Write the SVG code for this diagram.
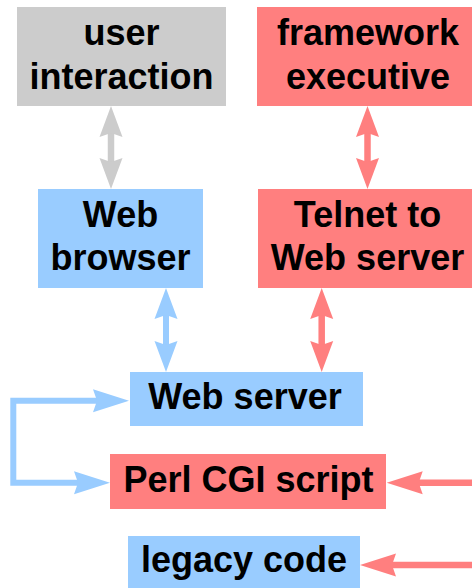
<svg xmlns="http://www.w3.org/2000/svg" width="472" height="588" viewBox="0 0 472 588">
  <style>
    .lbl { font-family: "Liberation Sans", Arial, Helvetica, sans-serif; font-weight: bold; font-size: 36px; fill: #000; text-anchor: middle; }
    .gray { fill: #cccccc; }
    .red { fill: #ff7f7f; }
    .blue { fill: #99ccff; }
    .c-gray { stroke: #cccccc; stroke-width: 6.5; fill: none; }
    .c-red { stroke: #ff7f7f; stroke-width: 6.5; fill: none; }
    .c-blue { stroke: #99ccff; stroke-width: 6; fill: none; }
  </style>
  <defs>
    <!-- barbed heads; tip sits 15px past the line end -->
    <marker id="hv-gray" markerUnits="userSpaceOnUse" markerWidth="60" markerHeight="60" orient="auto-start-reverse" overflow="visible">
      <path d="M15 0 L-16 -11.5 L-12 0 L-16 11.5 Z" fill="#cccccc"/>
    </marker>
    <marker id="hv-red" markerUnits="userSpaceOnUse" markerWidth="60" markerHeight="60" orient="auto-start-reverse" overflow="visible">
      <path d="M15 0 L-16 -11.5 L-12 0 L-16 11.5 Z" fill="#ff7f7f"/>
    </marker>
    <marker id="hv-blue" markerUnits="userSpaceOnUse" markerWidth="60" markerHeight="60" orient="auto-start-reverse" overflow="visible">
      <path d="M15 0 L-16 -11.5 L-12 0 L-16 11.5 Z" fill="#99ccff"/>
    </marker>
    <marker id="hh-red" markerUnits="userSpaceOnUse" markerWidth="60" markerHeight="60" orient="auto-start-reverse" overflow="visible">
      <path d="M15 0 L-21 -11.5 L-17 0 L-21 11.5 Z" fill="#ff7f7f"/>
    </marker>
    <marker id="hh-blue" markerUnits="userSpaceOnUse" markerWidth="60" markerHeight="60" orient="auto-start-reverse" overflow="visible">
      <path d="M15 0 L-21 -11.5 L-17 0 L-21 11.5 Z" fill="#99ccff"/>
    </marker>
  </defs>

  <g id="connectors">
    <line class="c-gray" x1="111" y1="121" x2="111" y2="174" marker-start="url(#hv-gray)" marker-end="url(#hv-gray)"/>
    <line class="c-red" x1="367.5" y1="121" x2="367.5" y2="174" marker-start="url(#hv-red)" marker-end="url(#hv-red)"/>
    <line class="c-blue" x1="166" y1="303" x2="166" y2="357" marker-start="url(#hv-blue)" marker-end="url(#hv-blue)"/>
    <line class="c-red" x1="321.7" y1="303" x2="321.7" y2="357" marker-start="url(#hv-red)" marker-end="url(#hv-red)"/>
    <path class="c-blue" d="M114 400.8 H13.3 V482.7 H95" marker-start="url(#hh-blue)" marker-end="url(#hh-blue)"/>
    <line class="c-red" x1="480" y1="482.7" x2="401.7" y2="482.7" marker-end="url(#hh-red)"/>
    <line class="c-red" x1="480" y1="565" x2="375" y2="565" marker-end="url(#hh-red)"/>
  </g>

  <g id="user-interaction">
    <rect class="gray" x="17" y="7" width="209" height="99"/>
    <text class="lbl" x="121.5" y="45">user</text>
    <text class="lbl" x="121.5" y="89">interaction</text>
  </g>

  <g id="framework-executive">
    <rect class="red" x="257" y="7" width="223" height="99"/>
    <text class="lbl" x="368" y="45">framework</text>
    <text class="lbl" x="368" y="89">executive</text>
  </g>

  <g id="web-browser">
    <rect class="blue" x="38" y="189" width="165" height="99"/>
    <text class="lbl" x="120.5" y="227">Web</text>
    <text class="lbl" x="120.5" y="270">browser</text>
  </g>

  <g id="telnet">
    <rect class="red" x="258" y="189" width="222" height="99"/>
    <text class="lbl" x="367.5" y="227">Telnet to</text>
    <text class="lbl" x="367.5" y="270">Web server</text>
  </g>

  <g id="web-server">
    <rect class="blue" x="130" y="372" width="233" height="54"/>
    <text class="lbl" x="245" y="409">Web server</text>
  </g>

  <g id="perl-cgi">
    <rect class="red" x="110" y="454" width="276" height="55"/>
    <text class="lbl" x="248.5" y="491.5">Perl CGI script</text>
  </g>

  <g id="legacy-code">
    <rect class="blue" x="128" y="536" width="232" height="60"/>
    <text class="lbl" x="244" y="572">legacy code</text>
  </g>
</svg>
